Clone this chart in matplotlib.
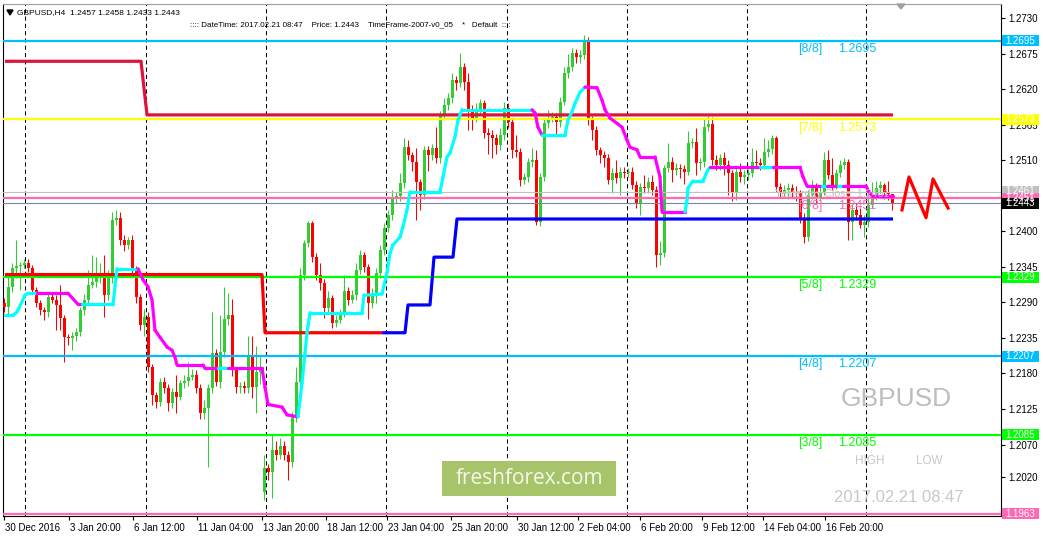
import numpy as np
import matplotlib
matplotlib.use("Agg")
import matplotlib.pyplot as plt
import matplotlib.transforms as mtransforms
from matplotlib.patches import Rectangle

# GBPUSD H4 candles, 30 Dec 2016 .. 21 Feb 2017
closes = [
    1.2283, 1.2314, 1.2343, 1.2346, 1.2348, 1.2351, 1.2343, 1.2309, 1.2289, 1.2278,
    1.2275, 1.2298, 1.2294, 1.2286, 1.2266, 1.2236, 1.2235, 1.2238, 1.2244, 1.2278,
    1.2294, 1.2317, 1.2321, 1.2328, 1.2336, 1.2301, 1.2328, 1.2418, 1.2421, 1.2386,
    1.2379, 1.2386, 1.2340, 1.2298, 1.2255, 1.2267, 1.2190, 1.2147, 1.2136, 1.2167,
    1.2158, 1.2134, 1.2151, 1.2144, 1.2165, 1.2168, 1.2175, 1.2178, 1.2158, 1.2119,
    1.2127, 1.2158, 1.2212, 1.2167, 1.2213, 1.2264, 1.2270, 1.2185, 1.2159, 1.2161,
    1.2158, 1.2205, 1.2159, 1.2182, 1.2188, 1.2034, 1.2028, 1.2062, 1.2054, 1.2068,
    1.2054, 1.2043, 1.2113, 1.2167, 1.2332, 1.2382, 1.2413, 1.2360, 1.2332, 1.2320,
    1.2281, 1.2297, 1.2258, 1.2263, 1.2274, 1.2308, 1.2294, 1.2301, 1.2340, 1.2363,
    1.2345, 1.2289, 1.2304, 1.2336, 1.2371, 1.2405, 1.2425, 1.2450, 1.2455, 1.2475,
    1.2530, 1.2518, 1.2507, 1.2476, 1.2456, 1.2526, 1.2518, 1.2529, 1.2513, 1.2580,
    1.2595, 1.2606, 1.2634, 1.2629, 1.2654, 1.2631, 1.2588, 1.2575, 1.2588, 1.2598,
    1.2552, 1.2549, 1.2544, 1.2534, 1.2549, 1.2591, 1.2569, 1.2526, 1.2523, 1.2479,
    1.2484, 1.2507, 1.2510, 1.2414, 1.2484, 1.2567, 1.2575, 1.2577, 1.2569, 1.2600,
    1.2645, 1.2654, 1.2676, 1.2670, 1.2673, 1.2693, 1.2572, 1.2557, 1.2526, 1.2518,
    1.2513, 1.2479, 1.2490, 1.2482, 1.2492, 1.2490, 1.2492, 1.2472, 1.2444, 1.2469,
    1.2467, 1.2476, 1.2464, 1.2363, 1.2366, 1.2498, 1.2507, 1.2495, 1.2498, 1.2496,
    1.2492, 1.2537, 1.2538, 1.2506, 1.2507, 1.2561, 1.2566, 1.2510, 1.2503, 1.2513,
    1.2503, 1.2490, 1.2461, 1.2492, 1.2484, 1.2487, 1.2490, 1.2507, 1.2506, 1.2503,
    1.2523, 1.2527, 1.2544, 1.2469, 1.2461, 1.2464, 1.2467, 1.2461, 1.2459, 1.2421,
    1.2391, 1.2456, 1.2469, 1.2453, 1.2461, 1.2510, 1.2487, 1.2472, 1.2490, 1.2503,
    1.2507, 1.2414, 1.2433, 1.2425, 1.2410, 1.2414, 1.2441, 1.2456, 1.2467, 1.2472,
    1.2459, 1.2457, 1.2443,
]
highs = [
    1.2296, 1.2329, 1.2351, 1.2386, 1.2352, 1.2357, 1.2357, 1.2348, 1.2314, 1.2294,
    1.2283, 1.2303, 1.2306, 1.2301, 1.2317, 1.2270, 1.2241, 1.2244, 1.2250, 1.2283,
    1.2303, 1.2340, 1.2363, 1.2360, 1.2351, 1.2363, 1.2340, 1.2430, 1.2433, 1.2430,
    1.2394, 1.2391, 1.2395, 1.2346, 1.2303, 1.2280, 1.2275, 1.2195, 1.2152, 1.2173,
    1.2175, 1.2164, 1.2158, 1.2178, 1.2170, 1.2178, 1.2198, 1.2187, 1.2185, 1.2164,
    1.2139, 1.2164, 1.2275, 1.2218, 1.2270, 1.2314, 1.2304, 1.2295, 1.2190, 1.2167,
    1.2168, 1.2238, 1.2238, 1.2222, 1.2205, 1.2054, 1.2040, 1.2085, 1.2075, 1.2080,
    1.2075, 1.2060, 1.2120, 1.2190, 1.2343, 1.2387, 1.2416, 1.2416, 1.2366, 1.2351,
    1.2326, 1.2308, 1.2301, 1.2270, 1.2280, 1.2332, 1.2314, 1.2309, 1.2351, 1.2371,
    1.2368, 1.2350, 1.2312, 1.2343, 1.2379, 1.2413, 1.2433, 1.2464, 1.2461, 1.2490,
    1.2544, 1.2541, 1.2523, 1.2529, 1.2481, 1.2532, 1.2532, 1.2535, 1.2561, 1.2586,
    1.2606, 1.2614, 1.2645, 1.2640, 1.2676, 1.2660, 1.2645, 1.2595, 1.2598, 1.2604,
    1.2603, 1.2560, 1.2557, 1.2550, 1.2560, 1.2600, 1.2598, 1.2575, 1.2549, 1.2529,
    1.2490, 1.2513, 1.2529, 1.2526, 1.2490, 1.2575, 1.2588, 1.2584, 1.2583, 1.2608,
    1.2654, 1.2675, 1.2684, 1.2682, 1.2680, 1.2704, 1.2700, 1.2578, 1.2563, 1.2530,
    1.2524, 1.2520, 1.2498, 1.2510, 1.2500, 1.2500, 1.2498, 1.2500, 1.2478, 1.2475,
    1.2487, 1.2484, 1.2487, 1.2470, 1.2385, 1.2503, 1.2537, 1.2515, 1.2506, 1.2504,
    1.2503, 1.2555, 1.2544, 1.2560, 1.2513, 1.2575, 1.2578, 1.2577, 1.2518, 1.2520,
    1.2523, 1.2510, 1.2495, 1.2498, 1.2506, 1.2495, 1.2497, 1.2529, 1.2526, 1.2513,
    1.2544, 1.2541, 1.2549, 1.2547, 1.2475, 1.2472, 1.2475, 1.2473, 1.2470, 1.2464,
    1.2428, 1.2464, 1.2480, 1.2475, 1.2470, 1.2523, 1.2526, 1.2513, 1.2497, 1.2510,
    1.2513, 1.2512, 1.2441, 1.2444, 1.2436, 1.2425, 1.2464, 1.2476, 1.2478, 1.2478,
    1.2475, 1.2478, 1.2458,
]
lows = [
    1.2275, 1.2270, 1.2306, 1.2328, 1.2309, 1.2343, 1.2337, 1.2303, 1.2283, 1.2270,
    1.2263, 1.2267, 1.2289, 1.2247, 1.2247, 1.2198, 1.2224, 1.2216, 1.2230, 1.2238,
    1.2270, 1.2289, 1.2312, 1.2314, 1.2320, 1.2267, 1.2294, 1.2320, 1.2410, 1.2379,
    1.2370, 1.2372, 1.2329, 1.2289, 1.2247, 1.2238, 1.2182, 1.2131, 1.2127, 1.2130,
    1.2150, 1.2122, 1.2127, 1.2119, 1.2139, 1.2158, 1.2161, 1.2170, 1.2150, 1.2110,
    1.2110, 1.2035, 1.2150, 1.2160, 1.2158, 1.2205, 1.2255, 1.2176, 1.2150, 1.2150,
    1.2150, 1.2150, 1.2142, 1.2119, 1.2164, 1.1984, 1.2015, 1.1987, 1.2046, 1.2048,
    1.2046, 1.2015, 1.2036, 1.2105, 1.2160, 1.2325, 1.2375, 1.2352, 1.2325, 1.2309,
    1.2266, 1.2275, 1.2250, 1.2252, 1.2258, 1.2267, 1.2286, 1.2289, 1.2294, 1.2334,
    1.2337, 1.2264, 1.2281, 1.2289, 1.2328, 1.2363, 1.2399, 1.2418, 1.2444, 1.2447,
    1.2467, 1.2510, 1.2493, 1.2418, 1.2433, 1.2450, 1.2493, 1.2510, 1.2506, 1.2506,
    1.2572, 1.2588, 1.2598, 1.2618, 1.2623, 1.2618, 1.2557, 1.2557, 1.2569, 1.2580,
    1.2544, 1.2520, 1.2513, 1.2520, 1.2526, 1.2541, 1.2560, 1.2513, 1.2515, 1.2470,
    1.2473, 1.2476, 1.2500, 1.2410, 1.2408, 1.2478, 1.2560, 1.2569, 1.2549, 1.2561,
    1.2595, 1.2637, 1.2648, 1.2660, 1.2660, 1.2666, 1.2565, 1.2541, 1.2518, 1.2506,
    1.2500, 1.2473, 1.2459, 1.2475, 1.2456, 1.2482, 1.2484, 1.2465, 1.2436, 1.2425,
    1.2459, 1.2459, 1.2456, 1.2345, 1.2348, 1.2360, 1.2492, 1.2476, 1.2487, 1.2482,
    1.2473, 1.2487, 1.2529, 1.2487, 1.2495, 1.2500, 1.2555, 1.2503, 1.2495, 1.2495,
    1.2487, 1.2456, 1.2447, 1.2449, 1.2476, 1.2473, 1.2480, 1.2484, 1.2498, 1.2495,
    1.2497, 1.2515, 1.2520, 1.2461, 1.2452, 1.2453, 1.2450, 1.2453, 1.2447, 1.2413,
    1.2382, 1.2385, 1.2450, 1.2444, 1.2447, 1.2456, 1.2481, 1.2464, 1.2465, 1.2484,
    1.2497, 1.2386, 1.2386, 1.2418, 1.2405, 1.2391, 1.2407, 1.2436, 1.2449, 1.2459,
    1.2450, 1.2449, 1.2433,
]
first_open = 1.2289
gap_bar = 65        # Monday 16 Jan weekend gap
gap_open = 1.1997

# trailing stop line (cyan = up, magenta = down), knots in bar units
trail_x = [0.25, 2.25, 3.25, 5.25, 6.0, 8.25, 16.0, 18.5, 19.5, 27.25,
           28.25, 33.5, 34.75, 36.0, 37.0, 37.75, 39.0, 40.75, 42.0, 42.75,
           43.25, 49.75, 50.25, 53.5, 56.0, 64.5, 65.25, 66.0, 69.5, 70.75,
           73.5, 74.5, 75.25, 75.75, 76.5, 89.5, 90.0, 94.5, 95.75, 96.5,
           97.25, 99.0, 99.75, 100.75, 101.5, 109.0, 109.75, 110.75, 111.5, 112.75,
           113.5, 114.5, 132.0, 132.75, 133.5, 134.5, 140.25, 141.0, 142.0, 142.75,
           144.0, 145.25, 148.25, 149.5, 150.25, 151.5, 153.25, 154.5, 155.75, 156.5,
           158.25, 159.0, 162.75, 164.0, 164.5, 170.25, 170.75, 171.0, 172.25, 174.75,
           175.75, 176.5, 189.0, 192.25, 199.0, 199.75, 200.75, 204.5, 205.75, 208.5,
           209.75, 215.5, 216.25, 217.0, 222.25]
trail_y = [1.2270, 1.2270, 1.2275, 1.2301, 1.2304, 1.2304, 1.2304, 1.2287, 1.2287, 1.2287,
           1.2342, 1.2342, 1.2325, 1.2314, 1.2294, 1.2247, 1.2236, 1.2221, 1.2216, 1.2205,
           1.2193, 1.2193, 1.2188, 1.2188, 1.2188, 1.2188, 1.2159, 1.2132, 1.2128, 1.2116,
           1.2113, 1.2165, 1.2212, 1.2243, 1.2274, 1.2274, 1.2301, 1.2303, 1.2336, 1.2366,
           1.2379, 1.2391, 1.2407, 1.2433, 1.2461, 1.2461, 1.2484, 1.2515, 1.2521, 1.2546,
           1.2572, 1.2588, 1.2588, 1.2583, 1.2561, 1.2549, 1.2549, 1.2572, 1.2585, 1.2598,
           1.2615, 1.2623, 1.2622, 1.2603, 1.2588, 1.2575, 1.2567, 1.2561, 1.2541, 1.2530,
           1.2526, 1.2515, 1.2515, 1.2484, 1.2430, 1.2430, 1.2448, 1.2467, 1.2478, 1.2478,
           1.2492, 1.2499, 1.2499, 1.2499, 1.2499, 1.2484, 1.2470, 1.2470, 1.2470, 1.2470,
           1.2470, 1.2470, 1.2461, 1.2455, 1.2455]
# colour of each segment starting at a knot: c = cyan (up), m = magenta (down)
trail_dir = ("ccccc" + "mmm" + "ccc" + "mmmmmmmmmmmm" + "c" + "mmmmmm"
             + "cccccccccccccccccccccc" + "mmm" + "cccccc" + "mmmmmmmmmmmmmm"
             + "cccccc" + "m" + "c" + "mmmm" + "c" + "m" + "c" + "mmmm")

# weekly high / low step lines
res_x = [0.25, 34.25, 35.75, 222.25]
res_y = [1.2663, 1.2663, 1.2580, 1.2580]
sup_x = [0.25, 64.5, 65.25, 94.5]
sup_y = [1.2333, 1.2333, 1.2243, 1.2243]
sup2_x = [94.5, 100.25, 101.0, 106.5, 107.5, 112.25, 113.25, 222.25]
sup2_y = [1.2243, 1.2243, 1.2286, 1.2286, 1.2360, 1.2360, 1.2419, 1.2419]

# Murrey math levels
murrey_names = ["[8/8]", "[7/8]", "[6/8]", "[5/8]", "[4/8]", "[3/8]", "[2/8]"]
murrey_levels = [1.2695, 1.2573, 1.2451, 1.2329, 1.2207, 1.2085, 1.1963]
murrey_colors = ["#00BFFF", "#FFFF00", "#FF69B4", "#00FF00", "#00BFFF", "#00FF00", "#FF69B4"]
yesterday_close = 1.2461
bid = 1.2443

# projected zigzag drawn right of the last bar
zig_x = [224.5, 226.25, 230.5, 232.25, 236.0]
zig_y = [1.2433, 1.2484, 1.2421, 1.2481, 1.2436]

price_ticks = [1.2730, 1.2675, 1.2620, 1.2565, 1.2510, 1.2400, 1.2345, 1.2290,
               1.2235, 1.2180, 1.2125, 1.2070, 1.2020]
time_ticks = [0, 16.25, 32.25, 48.25, 64.5, 80.5, 95.75, 111.75, 128.25, 143.5,
              159, 174.5, 189.75, 205.25]
time_labels = ["30 Dec 2016", "3 Jan 20:00", "6 Jan 12:00", "11 Jan 04:00", "13 Jan 20:00",
               "18 Jan 12:00", "23 Jan 04:00", "25 Jan 20:00", "30 Jan 12:00", "2 Feb 04:00",
               "6 Feb 20:00", "9 Feb 12:00", "14 Feb 04:00", "16 Feb 20:00"]
week_lines = [5.25, 35.5, 65.5, 95.5, 125.75, 155.75, 185.75, 215.5]

W, H = 1043, 539
plt.rcParams["font.family"] = ["Liberation Sans", "DejaVu Sans"]
fig = plt.figure(figsize=(W / 100, H / 100), dpi=100)
fig.patch.set_facecolor("white")
ax = fig.add_axes([3 / W, 23 / H, 998 / W, 512 / H])
ax.set_xlim(-0.25, 249.25)
ax.set_ylim(1.19595, 1.27516)

closes = np.array(closes)
highs = np.array(highs)
lows = np.array(lows)
opens = np.r_[first_open, closes[:-1]]
opens[gap_bar] = gap_open
bars = np.arange(len(closes))
up = closes >= opens
cols = np.where(up, "#32CD32", "#FF0000")

# weekly separators
for wx in week_lines:
    ax.axvline(wx, color="black", lw=0.75, dashes=(4, 3), zorder=1)

# candles
ax.vlines(bars, lows, highs, colors=cols, lw=0.75, zorder=2)
body = np.maximum(np.abs(closes - opens), 0.00009)
ax.bar(bars, body, bottom=np.minimum(opens, closes), width=0.75, color=cols, lw=0, zorder=3)

# horizontal levels
for lvl, c in zip(murrey_levels, murrey_colors):
    ax.axhline(lvl, color=c, lw=1.6, zorder=4)
ax.axhline(yesterday_close, color="#C0C0C0", lw=0.8, zorder=4)
ax.axhline(bid, color="#778899", lw=0.8, zorder=4)

# step lines
ax.plot(res_x, res_y, color="#DC143C", lw=2.3, zorder=5, solid_capstyle="butt")
ax.plot(sup_x, sup_y, color="#FF0000", lw=2.3, zorder=5, solid_capstyle="butt")
ax.plot(sup2_x, sup2_y, color="#0000FF", lw=2.3, zorder=5, solid_capstyle="butt")

# trailing line
for k in range(len(trail_x) - 1):
    c = "#00FFFF" if trail_dir[k] == "c" else "#FF00FF"
    ax.plot(trail_x[k:k + 2], trail_y[k:k + 2], color=c, lw=2.3, zorder=6,
            solid_capstyle="round")

ax.plot(zig_x, zig_y, color="#FF0000", lw=2.3, zorder=6, clip_on=False)

# level captions
for name, lvl, c in zip(murrey_names[:-1], murrey_levels[:-1], murrey_colors[:-1]):
    ax.text(198.5, lvl - 0.00125, name, color=c, fontsize=9, va="center", zorder=7)
    ax.text(208.5, lvl - 0.00125, f"{lvl:.4f}", color=c, fontsize=9, va="center", zorder=7)
ax.text(192.75, yesterday_close - 0.00035, f"Yesterday Close: {yesterday_close:.4f}",
        color="#C0C0C0", fontsize=7.6, va="center", zorder=7)

# axes styling
for s in ax.spines.values():
    s.set_color("black")
    s.set_linewidth(0.8)
ax.spines["top"].set_color("#A0A0A0")
ax.yaxis.tick_right()
ax.set_yticks(price_ticks)
ax.set_yticklabels([f"{p:.4f}" for p in price_ticks])
ax.tick_params(axis="y", direction="out", length=3, width=0.8, pad=2, labelsize=7)
ax.set_xticks(time_ticks)
ax.set_xticklabels(time_labels, ha="left")
ax.tick_params(axis="x", direction="out", length=3, width=0.8, pad=2, labelsize=7)
for lab in ax.get_xticklabels():
    lab.set_transform(lab.get_transform() + mtransforms.ScaledTranslation(1 / 100, 0, fig.dpi_scale_trans))

# price tags on the right scale
tag_tr = mtransforms.blended_transform_factory(ax.transAxes, ax.transData)
tags = [(murrey_levels[0], murrey_colors[0]), (murrey_levels[1], murrey_colors[1]),
        (yesterday_close, "#C0C0C0"), (murrey_levels[2], murrey_colors[2]),
        (bid, "#000000"), (murrey_levels[3], murrey_colors[3]),
        (murrey_levels[4], murrey_colors[4]), (murrey_levels[5], murrey_colors[5]),
        (murrey_levels[6], murrey_colors[6])]
tag_h = 11 * 0.0001547
for val, c in tags:
    yc = val
    if val == yesterday_close:
        yc = val + 0.00012
    ax.add_patch(Rectangle((1.0012, yc - tag_h / 2), 0.037, tag_h, transform=tag_tr,
                           facecolor=c, edgecolor="none", clip_on=False, zorder=8))
    ax.text(1.004, yc, f"{val:.4f}", transform=tag_tr, color="white", fontsize=7,
            va="center", ha="left", clip_on=False, zorder=9)


def ftext(x, y, s, **kw):
    fig.text(x / W, 1 - y / H, s, **kw)


# header
fig.patches.append(plt.Polygon([[7 / W, 1 - 10 / H], [13 / W, 1 - 10 / H], [10 / W, 1 - 15 / H]],
                               closed=True, color="black", transform=fig.transFigure))
ftext(17, 13, "GBPUSD,H4  1.2457 1.2458 1.2433 1.2443", fontsize=6.0, va="center")
ftext(190, 25, ":::: DateTime: 2017.02.21 08:47    Price: 1.2443    TimeFrame-2007-v0_05    *   Default  ::::",
      fontsize=5.8, va="center")
fig.patches.append(plt.Polygon([[897 / W, 1 - 4 / H], [905 / W, 1 - 4 / H], [901 / W, 1 - 9 / H]],
                               closed=True, color="#A0A0A0", transform=fig.transFigure))

# watermarks
ftext(896, 399, "GBPUSD", fontsize=19, color="#BDBDBD", ha="center", va="center")
ftext(870, 461, "HIGH", fontsize=8.5, color="#C8C8C8", ha="center", va="center")
ftext(929, 461, "LOW", fontsize=8.5, color="#C8C8C8", ha="center", va="center")
ftext(899, 498, "2017.02.21 08:47", fontsize=12, color="#C8C8C8", ha="center", va="center")
fig.patches.append(Rectangle((442 / W, 1 - 496 / H), 174 / W, 35 / H, transform=fig.transFigure,
                             facecolor="#A8C46A", edgecolor="none", zorder=10))
fig.text(529 / W, 1 - 479 / H, "freshforex.com", fontsize=15, color="#F4F8EC",
         family="Open Sans", ha="center", va="center", zorder=11)

fig.savefig("out.png", dpi=100)
